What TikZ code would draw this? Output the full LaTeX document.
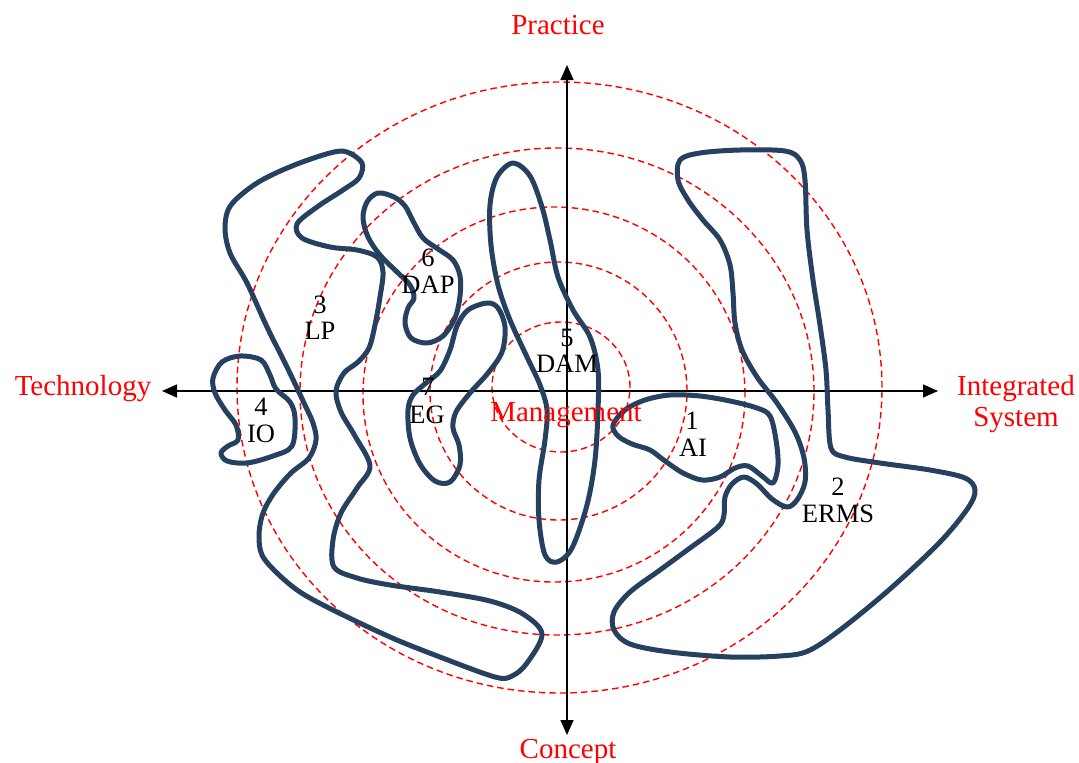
\documentclass[tikz,border=0pt]{standalone}
\usepackage{fontspec}
\setmainfont{Liberation Serif}
\usetikzlibrary{arrows.meta}
\definecolor{blobc}{RGB}{38,64,96}
\begin{document}
\begin{tikzpicture}[x=1pt,y=-1pt,
  ring/.style={draw=red, line width=1.4pt, dash pattern=on 6.5pt off 4pt},
  axisline/.style={draw=black, line width=1.5pt, {Triangle[length=15pt,width=13pt]}-{Triangle[length=15pt,width=13pt]}},
  blob/.style={draw=blobc, line width=5pt, line join=round},
  redlab/.style={text=red, font=\fontsize{29}{34}\selectfont, inner sep=0pt, anchor=base},
  blab/.style={text=black, font=\fontsize{26.5}{30}\selectfont, inner sep=0pt, anchor=base}]
\useasboundingbox (0,0) rectangle (1079,763);
% rings
\draw[ring] (561,387) ellipse [x radius=69pt, y radius=65pt];
\draw[ring] (558.5,391) ellipse [x radius=128.5pt, y radius=129pt];
\draw[ring] (554,394.5) ellipse [x radius=191pt, y radius=187.5pt];
\draw[ring] (557,391.5) ellipse [x radius=257pt, y radius=243.5pt];
\draw[ring] (559.5,387.5) ellipse [x radius=322.5pt, y radius=305.5pt];
% axes
\coordinate (axL) at (162,391);
\coordinate (axR) at (938,391);
\coordinate (axT) at (567,65);
\coordinate (axB) at (567,735);
\draw[axisline] (axL) -- (axR);
\draw[axisline] (axB) -- (axT);
% blob 3 LP
\draw[blob] plot[smooth cycle, tension=0.55] coordinates {
 (347,152) (362,163) (359,178) (343,190) (317,207) (297,224) (302,238) (330,247) (357,250) (377,257)
 (383,272) (380,297) (375,325) (369,348) (358,362) (344,373) (336,391) (341,412) (355,436) (370,466)
 (357,488) (341,513) (333,540) (334,567) (357,578) (390,585) (440,592) (490,601) (523,614) (542,634)
 (527,663) (512,676) (495,677) (440,657) (390,637) (333,610) (300,592) (277,573) (262,555) (259,535)
 (263,513) (274,493) (291,473) (309,458) (316,440) (313,423) (304,403) (287,367) (267,327) (247,283)
 (230,253) (225,227) (231,205) (257,183) (292,166) (330,153)};
% blob 4 IO
\draw[blob] plot[smooth cycle, tension=0.55] coordinates {
 (240,356) (261,360) (270,375) (276,389) (290,402) (295,418) (292,446) (273,456) (247,463) (227,461)
 (221,453) (228,446) (238,440) (236,425) (225,410) (215,393) (213,378) (222,362)};
% blob 6 DAP
\draw[blob] plot[smooth cycle, tension=0.55] coordinates {
 (378,193) (394,197) (405,206) (413,221) (423,238) (438,249) (453,260) (460,276) (460,296) (455,318)
 (443,336) (427,343) (411,338) (405,323) (408,308) (414,298) (410,285) (397,272) (380,255) (368,237)
 (363,218) (367,202)};
% blob 7 EG
\draw[blob] plot[smooth cycle, tension=0.55] coordinates {
 (487,303) (498,308) (505,327) (502,352) (488,373) (470,393) (456,412) (453,428) (459,445) (460,465)
 (450,482) (435,481) (420,464) (410,438) (408,410) (413,395) (426,383) (440,371) (450,350) (457,326)
 (468,310)};
% blob 5 DAM
\draw[blob] plot[smooth cycle, tension=0.55] coordinates {
 (513,163) (530,176) (542,207) (550,240) (558,277) (573,310) (590,337) (598,370) (598,410) (595,460)
 (587,505) (572,548) (557,562) (545,555) (539,520) (539,480) (545,440) (547,410) (540,385) (527,357)
 (510,320) (498,285) (491,245) (490,205) (497,177)};
% blob 1 AI
\draw[blob] plot[smooth cycle, tension=0.55] coordinates {
 (613,425) (625,410) (645,400) (670,395) (700,396) (730,401) (757,408) (770,416) (776,440) (778,465)
 (773,483) (762,476) (748,466) (735,468) (720,477) (702,480) (683,473) (665,461) (650,450) (632,444)
 (618,436)};
% blob 2 ERMS
\draw[blob] plot[smooth cycle, tension=0.55] coordinates {
 (680,160) (700,153) (740,150) (785,151) (800,160) (805,180) (807,230) (813,280) (820,325) (826,370)
 (828,410) (831,448) (845,457) (880,463) (930,470) (965,478) (975,490) (968,508) (940,542) (890,589)
 (840,630) (808,651) (780,656) (730,657) (670,652) (630,644) (614,630) (614,612) (630,592) (660,570)
 (690,548) (718,527) (724,515) (725,497) (732,484) (744,477) (757,484) (772,499) (787,507) (797,500)
 (805,482) (804,458) (795,432) (777,403) (757,377) (742,350) (735,323) (733,293) (730,265) (720,240)
 (703,220) (688,200) (678,180)};
% labels
\node[redlab] (tPractice) at (558,34) {Practice};
\node[redlab] (tConcept) at (568,758) {Concept};
\node[redlab] (tTech) at (83,395) {Technology};
\node[redlab] (tInt) at (1016,395) {Integrated};
\node[redlab] (tSys) at (1016,426) {System};
\node[redlab] (tMgmt) at (566,421) {Management};
\node[blab] (n5) at (567,346) {5};
\node[blab] (nDAM) at (567,372) {DAM};
\node[blab] (n6) at (428,266) {6};
\node[blab] (nDAP) at (428,293) {DAP};
\node[blab] (n3) at (320,313) {3};
\node[blab] (nLP) at (320,339) {LP};
\node[blab] (n4) at (261,415) {4};
\node[blab] (nIO) at (261,442) {IO};
\node[blab] (n7) at (428,395) {7};
\node[blab] (nEG) at (427,423) {EG};
\node[blab] (n1) at (692,429) {1};
\node[blab] (nAI) at (693,456) {AI};
\node[blab] (n2) at (838,495) {2};
\node[blab] (nERMS) at (838,522) {ERMS};
\end{tikzpicture}
\end{document}
